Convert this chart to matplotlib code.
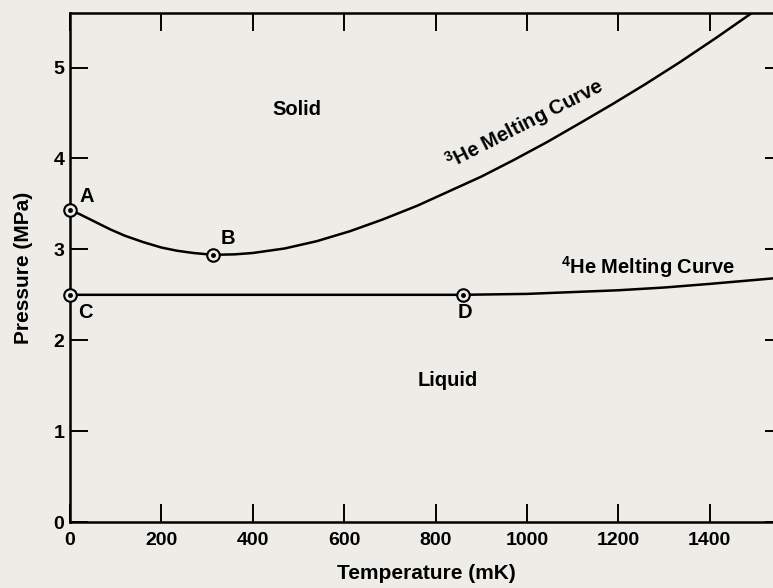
import matplotlib
matplotlib.use("Agg")
import matplotlib.pyplot as plt

# melting curve readings (temperature in mK, pressure in MPa)
he3_T = [0, 20, 40, 60, 88, 120, 160, 200, 234, 270, 313, 360, 400, 470, 540,
         613, 685, 760, 830, 900, 970, 1044, 1120, 1188, 1260, 1335, 1415, 1495]
he3_P = [3.43, 3.39, 3.34, 3.29, 3.22, 3.15, 3.08, 3.02, 2.985, 2.96, 2.94, 2.945, 2.96, 3.01, 3.09,
         3.20, 3.33, 3.48, 3.64, 3.80, 3.98, 4.18, 4.40, 4.60, 4.82, 5.06, 5.33, 5.61]

he4_T = [0, 200, 400, 600, 860, 1000, 1100, 1200, 1300, 1400, 1560]
he4_P = [2.50, 2.50, 2.50, 2.50, 2.50, 2.51, 2.53, 2.55, 2.58, 2.62, 2.69]

# labelled points
pt_names = ["A", "B", "C", "D"]
pt_T = [0, 313, 0, 860]
pt_P = [3.43, 2.94, 2.50, 2.50]

x_ticks = [0, 200, 400, 600, 800, 1000, 1200, 1400]
y_ticks = [0, 1, 2, 3, 4, 5]

bg = "#edece6"
plt.rcParams["font.family"] = ["Liberation Sans", "DejaVu Sans"]
plt.rcParams["font.weight"] = "bold"
plt.rcParams["mathtext.fontset"] = "custom"
plt.rcParams["mathtext.rm"] = "Liberation Sans:bold"
plt.rcParams["mathtext.bf"] = "Liberation Sans:bold"

fig = plt.figure(figsize=(7.73, 5.88), dpi=100, facecolor=bg)
ax = fig.add_axes([0.0906, 0.1122, 0.922, 0.8656], facecolor=bg)

ax.plot(he3_T, he3_P, color="black", lw=1.8, solid_joinstyle="round")
ax.plot(he4_T, he4_P, color="black", lw=1.8, solid_joinstyle="round")

ax.plot(pt_T, pt_P, "o", ms=9, mfc=bg, mec="black", mew=1.5, clip_on=False, zorder=5)
ax.plot(pt_T, pt_P, ".", ms=5, color="black", clip_on=False, zorder=6)

ax.set_xlim(0, 1560)
ax.set_ylim(0, 5.6)
ax.set_xticks(x_ticks)
ax.set_yticks(y_ticks)
ax.tick_params(axis="both", which="both", direction="in", length=13, width=1.4,
               top=True, right=True, labelsize=14, colors="black")
ax.tick_params(axis="x", pad=7)
ax.tick_params(axis="y", pad=4)
for sp in ax.spines.values():
    sp.set_linewidth(1.8)

ax.set_xlabel("Temperature (mK)", fontsize=15, fontweight="bold", labelpad=11)
ax.set_ylabel("Pressure (MPa)", fontsize=15, fontweight="bold", labelpad=15)

# region and curve labels
ax.text(497, 4.54, "Solid", fontsize=14.5, ha="center", va="center")
ax.text(827, 1.56, "Liquid", fontsize=14.5, ha="center", va="center")
ax.text(995, 4.38, "$^3$He Melting Curve", fontsize=14.5, ha="center", va="center",
        rotation=27, rotation_mode="anchor")
ax.text(1265, 2.81, "$^4$He Melting Curve", fontsize=14.5, ha="center", va="center")

label_pos = {"A": (37, 3.58), "B": (346, 3.12), "C": (33, 2.31), "D": (864, 2.30)}
for name in pt_names:
    tx, ty = label_pos[name]
    ax.text(tx, ty, name, fontsize=14.5, ha="center", va="center")

fig.savefig("out.png", dpi=100, facecolor=bg)
